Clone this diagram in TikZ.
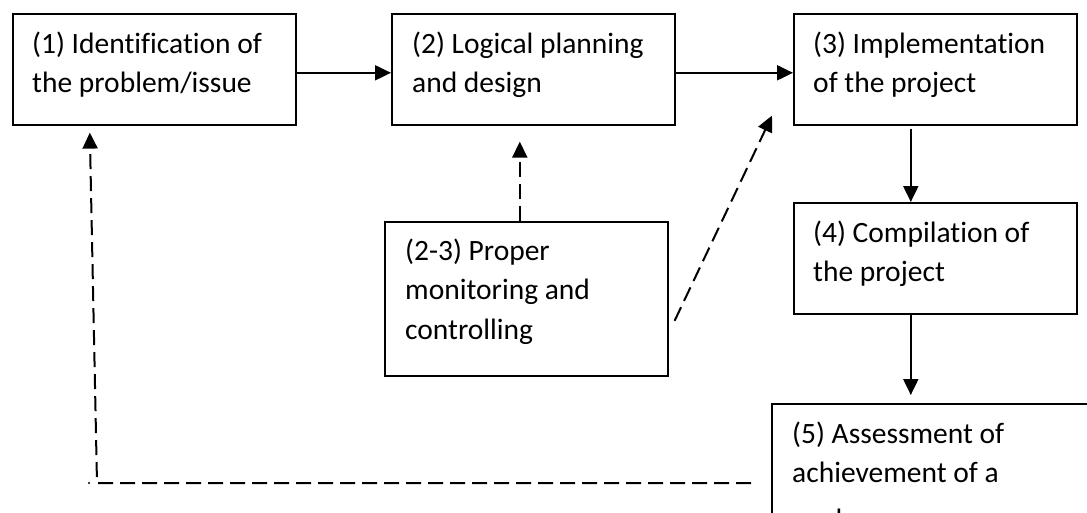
\documentclass[tikz,border=0pt]{standalone}
\usepackage{fontspec}
\setmainfont{Carlito}[Ligatures=NoCommon]
\usetikzlibrary{arrows.meta}
\begin{document}
\begin{tikzpicture}[x=1pt,y=-1pt,
  stage/.style={draw=black, line width=1.6pt, rectangle, inner sep=0pt, anchor=north west, minimum width=283pt, minimum height=111pt},
  boxtext/.style={anchor=base west, inner sep=0pt, font=\fontsize{29.5}{39.5}\selectfont},
  flow/.style={line width=2pt, -{Triangle[length=16pt,width=15pt]}},
  fback/.style={flow, dash pattern=on 15pt off 7pt}]
\useasboundingbox (0,0) rectangle (1087,512);
\clip (0,0) rectangle (1087,512);
% boxes
\node[stage] (b1) at (12,13) {};
\node[stage] (b2) at (391,13) {};
\node[stage] (b3) at (793,13) {};
\node[stage, minimum height=154pt] (b23) at (384,221) {};
\node[stage] (b4) at (793,202) {};
\node[stage, minimum width=350pt, minimum height=150pt] (b5) at (771,403) {};
% texts
\node[boxtext] (t1) at (32,53) {\parbox[t]{270pt}{\raggedright (1) Identification of\\the problem/issue}};
\node[boxtext] (t2) at (412,53) {\parbox[t]{270pt}{\raggedright (2) Logical planning\\and design}};
\node[boxtext] (t3) at (813,53) {\parbox[t]{270pt}{\raggedright (3) Implementation\\of the project}};
\node[boxtext] (t23) at (405,260) {\parbox[t]{270pt}{\raggedright (2-3) Proper\\monitoring and\\controlling}};
\node[boxtext] (t4) at (813,242) {\parbox[t]{270pt}{\raggedright (4) Compilation of\\the project}};
\node[boxtext] (t5) at (792,443) {\parbox[t]{290pt}{\raggedright (5) Assessment of\\achievement of a\\[7pt]goal}};
% solid flow
\draw[flow] ([yshift=-3.5pt]b1.east) -- ([yshift=-3.5pt]b2.west);
\draw[flow] ([yshift=-3.5pt]b2.east) -- ([yshift=-3.5pt]b3.west);
\draw[flow] ([xshift=-24.5pt,yshift=-3pt]b3.south) -- ([xshift=-24.5pt]b4.north);
\draw[flow, shorten >=8pt] ([xshift=-24.5pt]b4.south) -- ([xshift=-24.5pt]b4.south |- b5.north);
% dashed monitoring
\draw[fback, shorten >=16pt] ([xshift=-6.5pt]b23.north) -- ([xshift=-6.5pt]b23.north |- b2.south);
\draw[fback] ([shift={(6pt,-22pt)}]b23.east) -- ([shift={(-21pt,10pt)}]b3.south west);
% feedback
\coordinate (fbs) at (751,483);
\coordinate (fbc) at (97,483);
\draw[fback] (fbs) -- (fbc) -- ([xshift=-64.5pt,yshift=-7pt]b1.south);
\fill (89,483) circle (1.1pt);
\end{tikzpicture}
\end{document}
